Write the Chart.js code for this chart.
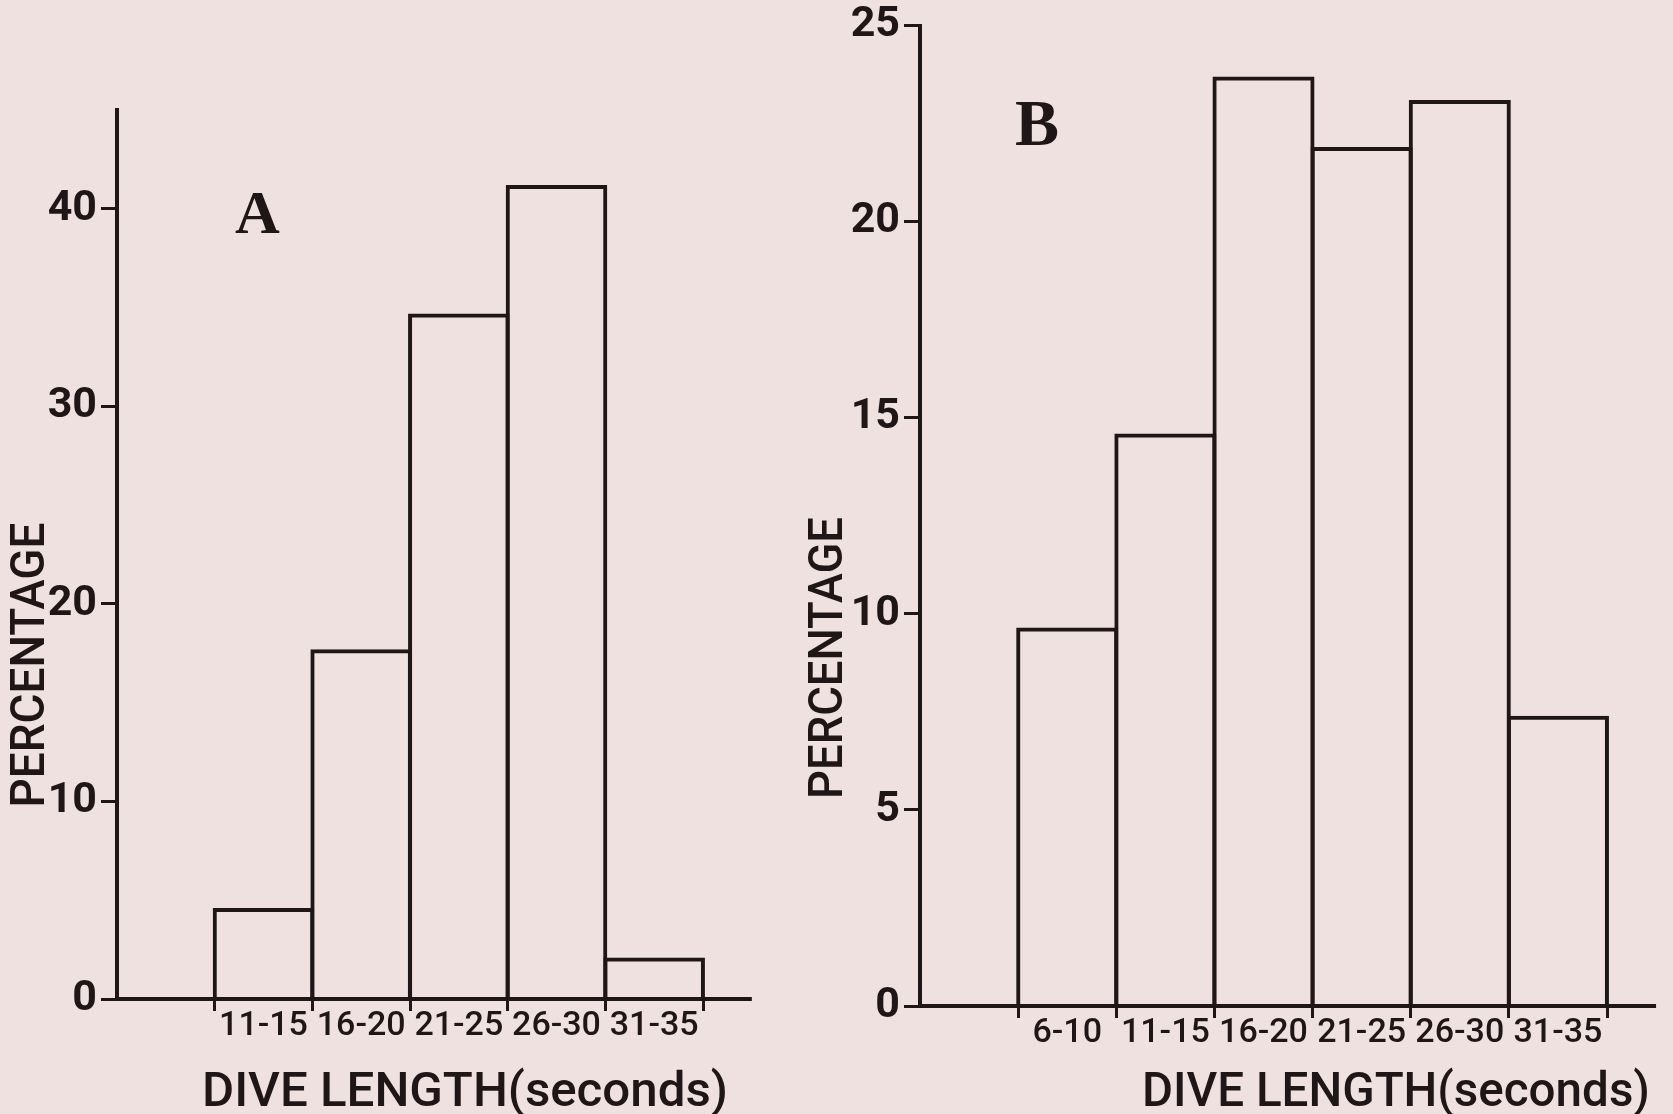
<!DOCTYPE html>
<html>
<head>
<meta charset="utf-8">
<script src="https://cdn.jsdelivr.net/npm/chart.js@4/dist/chart.umd.min.js"></script>
<style>
  html, body { margin: 0; padding: 0; background: #f0e1e1; }
  #wrap { position: relative; width: 1673px; height: 1114px; overflow: hidden; }
  .panel { position: absolute; top: 0; height: 1114px; }
  #panelA { left: 0; width: 790px; }
  #panelB { left: 790px; width: 883px; }
</style>
</head>
<body>
<div id="wrap">
  <div class="panel" id="panelA"><canvas id="chartA"></canvas></div>
  <div class="panel" id="panelB"><canvas id="chartB"></canvas></div>
</div>
<script>
// values (percent of dives per class)
var labelsA = ['', '11-15', '16-20', '21-25', '26-30', '31-35'];
var valuesA = [null, 4.6, 17.7, 34.7, 41.2, 2.1];
var ticksA = [0, 10, 20, 30, 40];

var labelsB = ['', '6-10', '11-15', '16-20', '21-25', '26-30', '31-35'];
var valuesB = [null, 9.65, 14.6, 23.7, 21.9, 23.1, 7.4];
var ticksB = [0, 5, 10, 15, 20, 25];

var yTitle = 'PERCENTAGE';
var xTitle = 'DIVE LENGTH(seconds)';

var ink = '#1f1717';

// squeeze or stretch a line of text to the length it has in the figure
function fitText(ctx, text, cx, cy, len, rot, font, baseline) {
  ctx.save();
  ctx.font = font;
  var w = ctx.measureText(text).width;
  ctx.translate(cx, cy);
  ctx.rotate(rot);
  ctx.scale(len / w, 1);
  ctx.textAlign = 'center';
  ctx.textBaseline = baseline;
  ctx.fillText(text, 0, 0);
  ctx.restore();
}

var extras = {
  id: 'extras',
  afterDraw: function(chart, args, opts) {
    var ctx = chart.ctx, area = chart.chartArea;
    var xs = chart.scales.x;
    ctx.save();
    // the x axis runs on half a class past the last bar
    var half = (area.right - area.left) / xs.ticks.length / 2;
    ctx.strokeStyle = ink;
    ctx.lineWidth = 4;
    ctx.beginPath();
    ctx.moveTo(area.right - 2, area.bottom);
    ctx.lineTo(area.right + half, area.bottom);
    ctx.stroke();

    ctx.fillStyle = ink;
    ctx.font = 'bold ' + opts.letterSize + 'px "Liberation Serif", serif';
    ctx.textAlign = 'left';
    ctx.textBaseline = 'alphabetic';
    ctx.fillText(opts.letter, opts.letterX, opts.letterY);

    fitText(ctx, yTitle, opts.yX, opts.yY, opts.yLen, -Math.PI / 2, '500 48px Roboto', 'middle');
    fitText(ctx, xTitle, opts.xX, opts.xY, opts.xLen, 0, '500 48px Roboto', 'alphabetic');
    ctx.restore();
  }
};

function makeChart(id, labels, values, yMax, yTicks, lay, extraOpts) {
  return new Chart(document.getElementById(id), {
    type: 'bar',
    data: {
      labels: labels,
      datasets: [{
        data: values,
        backgroundColor: 'transparent',
        borderColor: ink,
        borderWidth: 4,
        borderSkipped: 'start',
        categoryPercentage: 1,
        barPercentage: 1.04,
        clip: false
      }]
    },
    options: {
      responsive: true,
      maintainAspectRatio: false,
      animation: false,
      layout: { padding: { top: lay.top, right: lay.right, left: 0, bottom: 0 } },
      plugins: {
        legend: { display: false },
        tooltip: { enabled: false },
        extras: extraOpts
      },
      scales: {
        x: {
          type: 'category',
          offset: true,
          grid: {
            display: true,
            offset: true,
            drawOnChartArea: false,
            drawTicks: true,
            tickLength: 12,
            tickWidth: 3,
            tickColor: function(c) { return c.index === 0 ? 'transparent' : ink; }
          },
          border: { display: true, color: ink, width: 4 },
          ticks: {
            color: ink,
            font: { family: 'Roboto', size: 34, weight: '500', lineHeight: 1 },
            padding: -2,
            maxRotation: 0,
            autoSkip: false
          },
          afterFit: function(s) { s.height = lay.xh; }
        },
        y: {
          min: 0,
          max: yMax,
          afterBuildTicks: function(axis) {
            axis.ticks = yTicks.map(function(v) { return { value: v }; });
          },
          grid: {
            drawOnChartArea: false,
            drawTicks: true,
            tickLength: 16,
            tickWidth: 3,
            tickColor: ink
          },
          border: { display: true, color: ink, width: 4 },
          ticks: {
            color: ink,
            font: { family: 'Roboto', size: 43, weight: 'bold', lineHeight: 1 },
            padding: 4
          },
          afterFit: function(s) { s.width = lay.yw; }
        }
      }
    },
    plugins: [extras]
  });
}

makeChart('chartA', labelsA, valuesA, 45, ticksA,
  { top: 110, right: 87, xh: 115, yw: 117 },
  { letter: 'A', letterSize: 62, letterX: 235, letterY: 233,
    yX: 32, yY: 665, yLen: 285,
    xX: 465, xY: 1106, xLen: 526 });

makeChart('chartB', labelsB, valuesB, 25, ticksB,
  { top: 25, right: 66, xh: 108, yw: 130 },
  { letter: 'B', letterSize: 66, letterX: 225, letterY: 145,
    yX: 40, yY: 658, yLen: 282,
    xX: 606, xY: 1106, xLen: 508 });
</script>
</body>
</html>
